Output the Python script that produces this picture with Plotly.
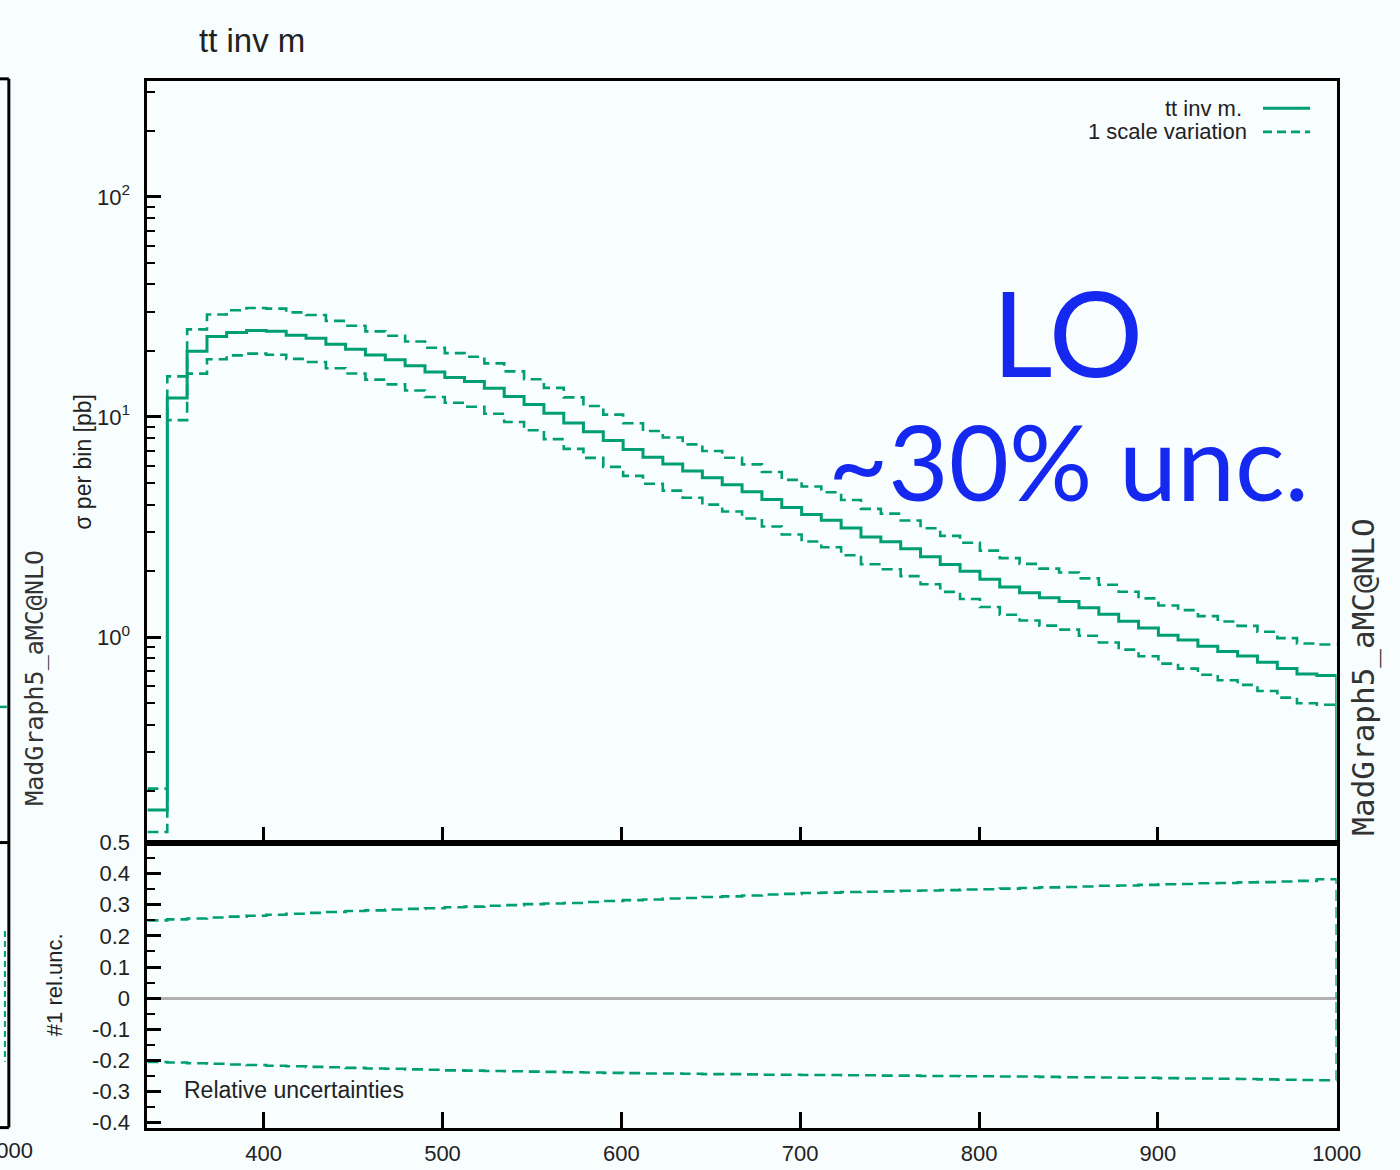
import plotly.graph_objects as go

# ---------------- data ----------------
mass_edges = [335.0, 346.1, 357.2, 368.3, 379.3, 390.4, 401.5, 412.6, 423.7, 434.8,
              445.8, 456.9, 468.0, 479.1, 490.2, 501.3, 512.3, 523.4, 534.5, 545.6,
              556.7, 567.8, 578.8, 589.9, 601.0, 612.1, 623.2, 634.3, 645.3, 656.4,
              667.5, 678.6, 689.7, 700.8, 711.8, 722.9, 734.0, 745.1, 756.2, 767.3,
              778.3, 789.4, 800.5, 811.6, 822.7, 833.8, 844.8, 855.9, 867.0, 878.1,
              889.2, 900.3, 911.3, 922.4, 933.5, 944.6, 955.7, 966.8, 977.8, 988.9,
              1000.0]

xsec_central = [0.164, 12.2, 19.9, 23.2, 24.2, 24.7, 24.5, 23.5, 22.8, 21.4,
                20.3, 19.1, 18.2, 17.1, 16.0, 15.1, 14.5, 13.5, 12.4, 11.4,
                10.4, 9.40, 8.57, 7.81, 7.12, 6.56, 6.11, 5.68, 5.29, 4.92,
                4.58, 4.22, 3.88, 3.61, 3.40, 3.13, 2.85, 2.71, 2.52, 2.32,
                2.14, 1.99, 1.83, 1.69, 1.59, 1.51, 1.45, 1.36, 1.27, 1.18,
                1.10, 1.02, 0.97, 0.91, 0.86, 0.82, 0.77, 0.72, 0.68, 0.67]

rel_unc_up = [0.250, 0.253, 0.256, 0.259, 0.262, 0.265, 0.268, 0.271, 0.274, 0.277,
              0.280, 0.282, 0.285, 0.287, 0.289, 0.292, 0.294, 0.297, 0.299, 0.302,
              0.304, 0.306, 0.309, 0.312, 0.315, 0.317, 0.320, 0.322, 0.325, 0.327,
              0.330, 0.333, 0.335, 0.338, 0.339, 0.341, 0.342, 0.343, 0.345, 0.346,
              0.347, 0.349, 0.350, 0.352, 0.354, 0.356, 0.357, 0.359, 0.361, 0.362,
              0.364, 0.366, 0.367, 0.369, 0.370, 0.372, 0.373, 0.375, 0.377, 0.382]

rel_unc_down = [-0.205, -0.207, -0.209, -0.211, -0.213, -0.215, -0.217, -0.219, -0.221, -0.222,
                -0.224, -0.226, -0.227, -0.229, -0.230, -0.232, -0.233, -0.234, -0.235, -0.236,
                -0.237, -0.238, -0.239, -0.240, -0.241, -0.242, -0.242, -0.243, -0.244, -0.244,
                -0.245, -0.246, -0.246, -0.247, -0.247, -0.248, -0.248, -0.249, -0.249, -0.250,
                -0.250, -0.251, -0.251, -0.252, -0.252, -0.253, -0.254, -0.254, -0.255, -0.256,
                -0.256, -0.257, -0.258, -0.258, -0.259, -0.260, -0.261, -0.262, -0.263, -0.264]

x_tick_vals = [400, 500, 600, 700, 800, 900, 1000]
log_tick_vals = [1, 10, 100]
log_tick_text = ["10<sup>0</sup>", "10<sup>1</sup>", "10<sup>2</sup>"]
log_minor_vals = [0.2, 0.3, 0.4, 0.5, 0.6, 0.7, 0.8, 0.9,
                  2, 3, 4, 5, 6, 7, 8, 9, 20, 30, 40, 50, 60, 70, 80, 90, 200, 300]
ratio_tick_vals = [0.5, 0.4, 0.3, 0.2, 0.1, 0.0, -0.1, -0.2, -0.3, -0.4]
ratio_tick_text = ["0.5", "0.4", "0.3", "0.2", "0.1", "0", "-0.1", "-0.2", "-0.3", "-0.4"]
ratio_minor_vals = [0.45, 0.35, 0.25, 0.15, 0.05, -0.05, -0.15, -0.25, -0.35]

# derived scale-variation envelopes
xsec_up = [c * (1 + u) for c, u in zip(xsec_central, rel_unc_up)]
xsec_down = [c * (1 + d) for c, d in zip(xsec_central, rel_unc_down)]

# ---------------- style ----------------
W, H = 1400, 1170
GREEN = "#009E73"
BG = "#f8fdfe"
BLUE = "#1428f0"
TXT = "#222222"
DASH = "11px,6px"
FONT = "Liberation Sans, Arial, sans-serif"


def px(x):
    return x / W


def py(y):
    return 1 - y / H


def steps(vals, tail=None):
    xs = list(mass_edges)
    ys = list(vals) + [vals[-1]]
    if tail is not None:
        xs.append(mass_edges[-1])
        ys.append(tail)
    return xs, ys


fig = go.Figure()

# main panel
xs, ys = steps(xsec_up)
fig.add_trace(go.Scatter(x=xs, y=ys, mode="lines", line=dict(shape="hv", color=GREEN, width=2.6, dash=DASH),
                         xaxis="x", yaxis="y", showlegend=False))
xs, ys = steps(xsec_down)
fig.add_trace(go.Scatter(x=xs, y=ys, mode="lines", line=dict(shape="hv", color=GREEN, width=2.6, dash=DASH),
                         xaxis="x", yaxis="y", showlegend=False))
xs, ys = steps(xsec_central, tail=1e-3)
fig.add_trace(go.Scatter(x=xs, y=ys, mode="lines", line=dict(shape="hv", color=GREEN, width=3),
                         xaxis="x", yaxis="y", showlegend=False))

# ratio panel
xs, ys = steps(rel_unc_up, tail=0.0)
fig.add_trace(go.Scatter(x=xs, y=ys, mode="lines", line=dict(shape="hv", color=GREEN, width=2.6, dash=DASH),
                         xaxis="x2", yaxis="y2", showlegend=False))
xs, ys = steps(rel_unc_down, tail=0.0)
fig.add_trace(go.Scatter(x=xs, y=ys, mode="lines", line=dict(shape="hv", color=GREEN, width=2.6, dash=DASH),
                         xaxis="x2", yaxis="y2", showlegend=False))

x_dom = [px(150), px(1360)]
main_dom = [py(845), py(70)]
ratio_dom = [py(1135), py(845)]

axis_common = dict(showline=True, linecolor="black", linewidth=3, mirror=True,
                   showgrid=False, zeroline=False, ticks="inside", tickcolor="black",
                   tickwidth=2.5, tickfont=dict(family=FONT, size=22, color=TXT))

fig.update_layout(
    width=W, height=H, autosize=False,
    margin=dict(l=0, r=0, t=0, b=0),
    paper_bgcolor=BG, plot_bgcolor=BG,
    showlegend=False,
    xaxis=dict(domain=x_dom, anchor="y", range=[335, 1000], tickvals=x_tick_vals,
               ticklen=16, showticklabels=False, **axis_common),
    yaxis=dict(domain=main_dom, anchor="x", type="log", range=[-0.933, 2.527],
               tickvals=log_tick_vals, ticktext=log_tick_text, ticklen=14,
               ticklabelstandoff=10,
               minor=dict(tickvals=log_minor_vals, ticks="inside", ticklen=8,
                          tickwidth=2, tickcolor="black"),
               **axis_common),
    xaxis2=dict(domain=x_dom, anchor="y2", range=[335, 1000], tickvals=x_tick_vals,
                ticklen=16, ticklabelstandoff=4, **axis_common),
    yaxis2=dict(domain=ratio_dom, anchor="x2", range=[-0.416, 0.5],
                tickvals=ratio_tick_vals, ticktext=ratio_tick_text, ticklen=14,
                ticklabelstandoff=10,
                minor=dict(tickvals=ratio_minor_vals, ticks="inside", ticklen=8,
                           tickwidth=2, tickcolor="black"),
                **axis_common),
)
fig.update_layout(yaxis2_zeroline=True, yaxis2_zerolinecolor="#b0b0b0", yaxis2_zerolinewidth=2.5)

shapes = []
annotations = []


def text(x, y, s, size, xanchor="center", yanchor="middle", angle=0, color=TXT, family=FONT):
    annotations.append(dict(x=px(x), y=py(y), xref="paper", yref="paper", text=s, showarrow=False,
                            xanchor=xanchor, yanchor=yanchor, textangle=angle,
                            font=dict(family=family, size=size, color=color)))


def line(x0, y0, x1, y1, color="black", width=3, dash=None):
    shapes.append(dict(type="line", xref="paper", yref="paper", x0=px(x0), y0=py(y0), x1=px(x1), y1=py(y1),
                       line=dict(color=color, width=width, dash=dash)))


# title
text(256, 29, "tt inv m", 33)

# legend
text(1266, 98, "tt inv m.", 22, xanchor="right")
text(1271, 122, "1 scale variation", 22, xanchor="right")
line(1285, 98, 1333, 98, color=GREEN, width=3)
line(1285, 122, 1333, 122, color=GREEN, width=2.6, dash="9px,5px")

# axis titles
text(85, 458, "σ per bin [pb]", 23, angle=-90)
text(55, 990, "#1 rel.unc.", 22, angle=-90)
text(185, 1097, "Relative uncertainties", 23, xanchor="left")

# big overlay text
text(1086, 325, "LO", 118, color=BLUE, family="Lato, Open Sans, sans-serif")
text(1087, 456, "~30% unc.", 104, color=BLUE, family="Lato, Open Sans, sans-serif")

# vertical program labels
text(1387, 677, "MadGraph5_aMC@NLO", 31, angle=-90, family="DejaVu Sans Mono, monospace", color="#333333")
text(35, 677, "MadGraph5_aMC@NLO", 25, angle=-90, family="DejaVu Sans Mono, monospace", color="#333333")

# remnants of the neighbouring panel on the left
line(9, 68, 9, 1135)
line(0, 68, 9, 68)
line(0, 845, 9, 845)
line(0, 1135, 9, 1135)
line(0, 707, 7, 707, color=GREEN, width=2.5)
line(5, 935, 5, 1068, color=GREEN, width=2, dash="6px,4px")
text(36, 1158, "1000", 22, xanchor="right")

fig.update_layout(shapes=shapes, annotations=annotations)

fig.write_html("out.html", config={"displayModeBar": False},
               post_script="document.body.style.margin='0';document.body.style.overflow='hidden';")
